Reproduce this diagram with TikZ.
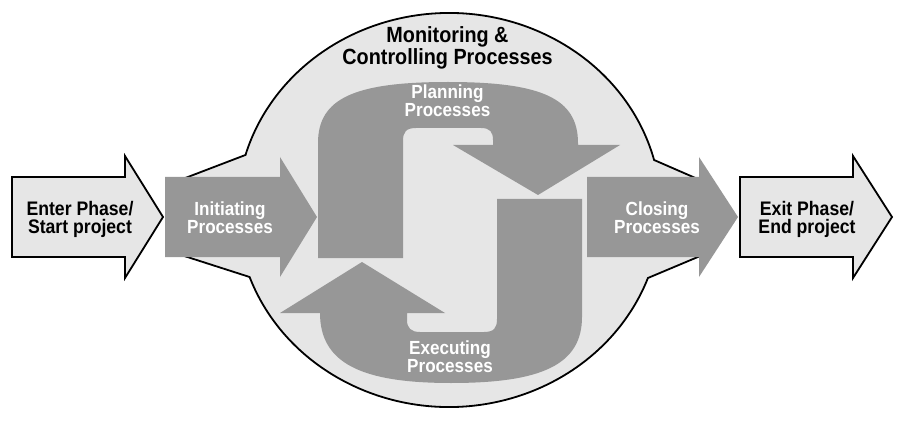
\documentclass[tikz,border=0pt]{standalone}
\usepackage{fontspec}
\setmainfont{Liberation Sans}[FakeStretch=0.9]
\definecolor{lite}{HTML}{E6E6E6}
\definecolor{midg}{HTML}{979797}
\begin{document}
\begin{tikzpicture}[x=1pt,y=1pt,
  outl/.style={line width=1.8pt, line join=miter},
  grayshape/.style={fill=midg},
  wlabel/.style={text=white, font=\bfseries\fontsize{19}{18}\selectfont, align=center, inner sep=0pt},
  blabel/.style={text=black, font=\bfseries\fontsize{19.6}{18}\selectfont, align=center, inner sep=0pt},
  tlabel/.style={text=black, font=\bfseries\fontsize{22}{18}\selectfont, align=center, inner sep=0pt}]
\useasboundingbox (0,0) rectangle (905,421);

% big ellipse with flares
\filldraw[fill=lite,outl] (245.4,266) -- (180,241) -- (178,167) -- (249.6,144)
  arc[start angle=199.88, end angle=339.81, x radius=212pt, y radius=197pt]
  -- (705,167) -- (700,241) -- (654.1,261)
  arc[start angle=14.70, end angle=163.79, x radius=212pt, y radius=197pt] -- cycle;

% enter / exit arrows
\filldraw[fill=lite,outl] (12,164) -- (12,244) -- (125,244) -- (125,265) -- (163,204) -- (125,143) -- (125,164) -- cycle;
\filldraw[fill=lite,outl] (740,164) -- (740,244) -- (853,244) -- (853,265) -- (892,204) -- (853,143) -- (853,164) -- cycle;

% initiating / closing arrows
\fill[grayshape] (165,164) -- (165,244) -- (280,244) -- (280,264) -- (317,204) -- (280,144) -- (280,164) -- cycle;
\fill[grayshape] (587,164) -- (587,244) -- (699,244) -- (699,264) -- (738,204) -- (699,144) -- (699,164) -- cycle;

% planning arrow
\fill[grayshape] (318,163) -- (318,278)
  .. controls (318,323) and (355,339) .. (448,339)
  .. controls (541,339) and (578,323) .. (578,278)
  -- (578,276) -- (620,276) -- (538,226) -- (453,276) -- (493,276) -- (493,281)
  .. controls (493,289) and (490,293) .. (481,293)
  -- (416,293)
  .. controls (406,293) and (403,289) .. (403,280)
  -- (403,163) -- cycle;

% executing arrow
\fill[grayshape] (582,222) -- (582,104)
  .. controls (582,56) and (541,38) .. (451,38)
  .. controls (361,38) and (320,58) .. (320,108)
  -- (280,108) -- (362,159) -- (445,108) -- (407,108) -- (407,101)
  .. controls (407,93) and (411,89) .. (420,89)
  -- (484,89)
  .. controls (494,89) and (497,93) .. (497,102)
  -- (497,222) -- cycle;

% labels
\node[tlabel] (mon) at (447.5,373) {Monitoring \&\\Controlling Processes};
\node[wlabel] (plan) at (447.5,320) {Planning\\Processes};
\node[wlabel] (exec) at (450,64.5) {Executing\\Processes};
\node[wlabel] (init) at (230,203.5) {Initiating\\Processes};
\node[wlabel] (clos) at (657,203.5) {Closing\\Processes};
\node[blabel] (enter) at (80,202) {Enter Phase/\\Start project};
\node[blabel] (exit) at (807,202) {Exit Phase/\\End project};
\end{tikzpicture}
\end{document}
